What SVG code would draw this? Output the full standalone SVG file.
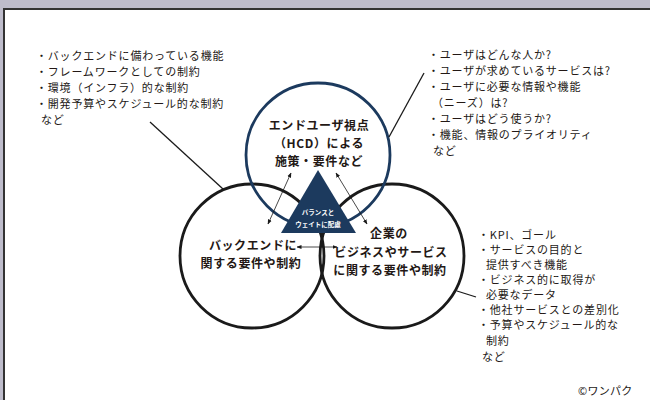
<svg xmlns="http://www.w3.org/2000/svg" width="650" height="400" viewBox="0 0 650 400">
<defs>
<style>
text{font-family:"Noto Sans CJK JP","Noto Sans",sans-serif;fill:#231815}
.t{font-size:11px;letter-spacing:0.8px}
.b{font-size:12px;font-weight:bold;text-anchor:middle;letter-spacing:0.6px}
.w{font-size:6.5px;font-weight:bold;fill:#fff;text-anchor:middle}
.c{fill:none;stroke:#1a1a1a;stroke-width:2.8}
.cb{fill:none;stroke:#1c3a5e;stroke-width:2.8}
.ln{stroke:#1a1a1a;stroke-width:1.3;fill:none}
.ar{stroke:#1a1a1a;stroke-width:0.8;fill:none;marker-start:url(#ah);marker-end:url(#ah)}
</style>
<marker id="ah" viewBox="0 0 10 10" refX="9" refY="5" markerWidth="5" markerHeight="5" orient="auto-start-reverse" markerUnits="userSpaceOnUse">
<path d="M0,1 L10,5 L0,9 Z" fill="#1a1a1a"/>
</marker>
</defs>
<rect x="0" y="0" width="650" height="400" fill="#bebccb"/>
<rect x="4" y="9" width="660" height="400" fill="#fff" stroke="#333" stroke-width="2"/>

<g id="circles">
<circle id="left-circle" class="c" cx="252" cy="256" r="72"/>
<circle id="right-circle" class="c" cx="392" cy="256" r="72"/>
<circle id="top-circle" class="cb" cx="318" cy="155" r="72"/>
</g>

<g id="connectors">
<line class="ln" x1="150" y1="122" x2="223" y2="189"/>
<line class="ln" x1="424" y1="73" x2="389" y2="137"/>
<line class="ln" x1="457" y1="291" x2="476" y2="297"/>
<line class="ar" x1="291" y1="173" x2="268" y2="224"/>
<line class="ar" x1="336" y1="173" x2="367" y2="224"/>
<line class="ar" x1="297" y1="247" x2="337" y2="247"/>
</g>

<g id="balance">
<polygon points="318,170 281,233 356,233" fill="#1c3a5e"/>
<text class="w" x="318" y="215">バランスと</text>
<text class="w" x="318" y="227">ウェイトに配慮</text>
</g>

<g id="node-hcd">
<text class="b" x="319" y="130">エンドユーザ視点</text>
<text class="b" x="319" y="148">（HCD）による</text>
<text class="b" x="319" y="166">施策・要件など</text>
</g>

<g id="node-backend">
<text class="b" x="253" y="250">バックエンドに</text>
<text class="b" x="251" y="268">関する要件や制約</text>
</g>

<g id="node-business">
<text class="b" x="389" y="238">企業の</text>
<text class="b" x="391" y="257">ビジネスやサービス</text>
<text class="b" x="390" y="275">に関する要件や制約</text>
</g>

<g id="note-backend">
<text class="t" x="36" y="60">・バックエンドに備わっている機能</text>
<text class="t" x="36" y="76">・フレームワークとしての制約</text>
<text class="t" x="36" y="92">・環境（インフラ）的な制約</text>
<text class="t" x="36" y="108">・開発予算やスケジュール的な制約</text>
<text class="t" x="41" y="124">など</text>
</g>

<g id="note-user">
<text class="t" x="428" y="59">・ユーザはどんな人か?</text>
<text class="t" x="428" y="75">・ユーザが求めているサービスは?</text>
<text class="t" x="428" y="91">・ユーザに必要な情報や機能</text>
<text class="t" x="432" y="107">（ニーズ）は?</text>
<text class="t" x="428" y="123">・ユーザはどう使うか?</text>
<text class="t" x="428" y="139">・機能、情報のプライオリティ</text>
<text class="t" x="433" y="155">など</text>
</g>

<g id="note-business">
<text class="t" x="478" y="239">・KPI、ゴール</text>
<text class="t" x="478" y="254">・サービスの目的と</text>
<text class="t" x="486" y="269">提供すべき機能</text>
<text class="t" x="478" y="284">・ビジネス的に取得が</text>
<text class="t" x="486" y="299">必要なデータ</text>
<text class="t" x="478" y="314">・他社サービスとの差別化</text>
<text class="t" x="478" y="329">・予算やスケジュール的な</text>
<text class="t" x="486" y="345">制約</text>
<text class="t" x="482" y="361">など</text>
</g>

<text class="t" x="578" y="395" style="letter-spacing:0.3px">©ワンパク</text>
</svg>
